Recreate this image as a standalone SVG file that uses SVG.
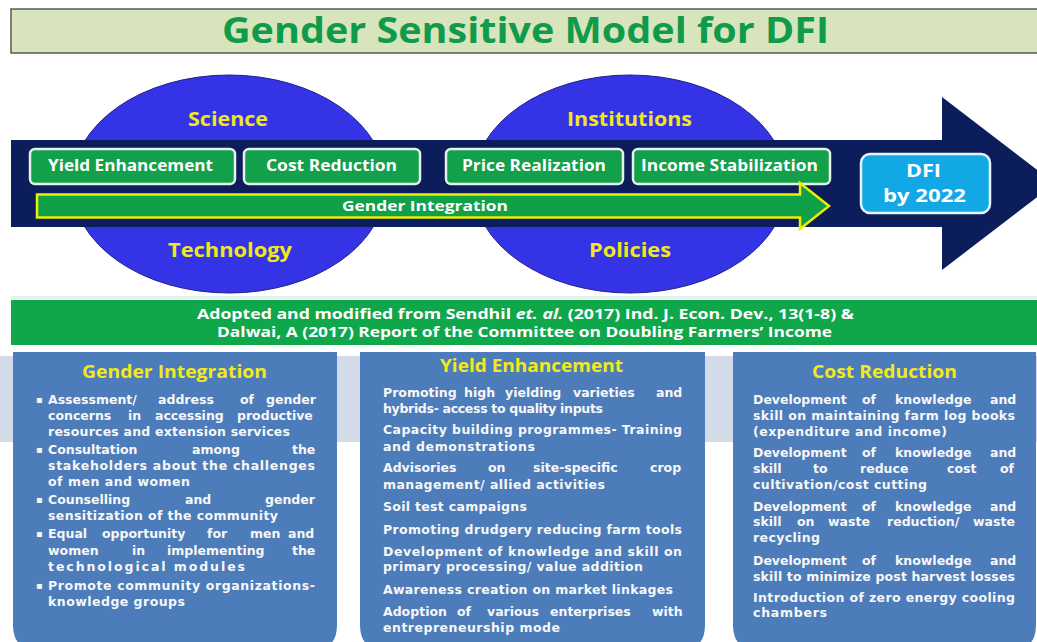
<svg xmlns="http://www.w3.org/2000/svg" width="1037" height="642" viewBox="0 0 1037 642">
<style>
.os{font-family:"Open Sans","Liberation Sans",sans-serif;font-weight:bold}
.title{font-size:35px;fill:#109a4b}
.yl{font-size:20px;fill:#f2e61e}
.bt{font-size:15.5px;fill:#ffffff}
.hdr{font-size:18.5px;fill:#f2ea1c}
.cite{font-size:14px;fill:#ffffff}
.body{font-family:"DejaVu Sans","Liberation Sans",sans-serif;font-weight:bold;font-size:12.5px;fill:#f7f7f7}
.gbox{fill:#12a04a;stroke:#e8f0ea;stroke-width:2.5}
.ell{fill:#3434e6;stroke:#22228a;stroke-width:1}
.panel{fill:#4d7cba}
</style>
<rect width="1037" height="642" fill="#ffffff"/>
<g id="title">
<rect x="11" y="9" width="1032" height="44" fill="#d8e4bc" stroke="#555a55" stroke-width="1.5"/>
<text class="os title" x="222" y="43" textLength="607" lengthAdjust="spacingAndGlyphs">Gender Sensitive Model for DFI</text>
</g>
<g id="ellipse-science">
<ellipse class="ell" cx="229" cy="184" rx="157" ry="109"/>
</g>
<g id="ellipse-institutions">
<ellipse class="ell" cx="630" cy="184" rx="157" ry="109"/>
</g>
<g id="connectors">
<path d="M11,140 H942 V97 L1055,183.5 L942,270 V227 H11 Z" fill="#0b1e5b"/>
</g>
<g id="labels-science">
<text class="os yl" x="188" y="126" textLength="80" lengthAdjust="spacingAndGlyphs">Science</text>
<text class="os yl" x="168" y="257" textLength="124" lengthAdjust="spacingAndGlyphs">Technology</text>
</g>
<g id="labels-institutions">
<text class="os yl" x="567" y="126" textLength="125" lengthAdjust="spacingAndGlyphs">Institutions</text>
<text class="os yl" x="589" y="257" textLength="82" lengthAdjust="spacingAndGlyphs">Policies</text>
</g>
<g id="box-yield">
<rect class="gbox" x="30" y="149" width="205" height="35" rx="5"/>
<text class="os bt" x="48" y="171" textLength="165" lengthAdjust="spacingAndGlyphs">Yield Enhancement</text>
</g>
<g id="box-cost">
<rect class="gbox" x="244" y="149" width="176" height="35" rx="5"/>
<text class="os bt" x="266" y="171" textLength="131" lengthAdjust="spacingAndGlyphs">Cost Reduction</text>
</g>
<g id="box-price">
<rect class="gbox" x="446" y="149" width="177" height="35" rx="5"/>
<text class="os bt" x="462" y="171" textLength="144" lengthAdjust="spacingAndGlyphs">Price Realization</text>
</g>
<g id="box-income">
<rect class="gbox" x="633" y="149" width="197" height="35" rx="5"/>
<text class="os bt" x="641" y="171" textLength="177" lengthAdjust="spacingAndGlyphs">Income Stabilization</text>
</g>
<g id="gender-arrow">
<path d="M37,194.5 H800 V183 L829,206 L800,229 V217.5 H37 Z" fill="#10a048" stroke="#eef000" stroke-width="2.5" stroke-linejoin="miter"/>
<text class="os" x="342" y="211" font-size="15" fill="#ffffff" textLength="166" lengthAdjust="spacingAndGlyphs">Gender Integration</text>
</g>
<g id="box-dfi">
<rect x="861" y="154" width="129" height="59" rx="9" fill="#12a8e6" stroke="#e8f4fa" stroke-width="2.5"/>
<text class="os" x="906" y="177" font-size="18" fill="#ffffff" textLength="35" lengthAdjust="spacingAndGlyphs">DFI</text>
<text class="os" x="883" y="202" font-size="18" fill="#ffffff" textLength="83" lengthAdjust="spacingAndGlyphs">by 2022</text>
</g>
<g id="citation">
<rect x="11" y="296" width="1026" height="3" fill="#e2f4ee"/>
<rect x="11" y="300" width="1026" height="45" fill="#10a64a"/>
<text class="os cite" x="197" y="319" textLength="657" lengthAdjust="spacingAndGlyphs">Adopted and modified from Sendhil <tspan font-style="italic">et. al.</tspan> (2017) Ind. J. Econ. Dev., 13(1-8) &amp;</text>
<text class="os cite" x="217" y="337" textLength="615" lengthAdjust="spacingAndGlyphs">Dalwai, A (2017) Report of the Committee on Doubling Farmers’ Income</text>
</g>
<rect x="0" y="356" width="1037" height="86" fill="#d3dbe8"/>
<g id="panel-gender">
<path class="panel" d="M13,352 H337 V625 Q337,650 312,650 H38 Q13,650 13,625 Z"/>
<text class="os hdr" x="82" y="378" textLength="185" lengthAdjust="spacingAndGlyphs">Gender Integration</text>
<g class="body">
<text x="36" y="403" font-size="10">▪</text>
<text y="404"><tspan x="48">Assessment/</tspan><tspan x="158">address</tspan><tspan x="240">of</tspan><tspan x="266">gender</tspan></text>
<text y="420"><tspan x="48">concerns</tspan><tspan x="128">in</tspan><tspan x="155">accessing</tspan><tspan x="237">productive</tspan></text>
<text x="48" y="436" textLength="242">resources and extension services</text>
<text x="36" y="453" font-size="10">▪</text>
<text y="454"><tspan x="48">Consultation</tspan><tspan x="192">among</tspan><tspan x="292">the</tspan></text>
<text x="48" y="470" textLength="267">stakeholders about the challenges</text>
<text x="48" y="486" textLength="142">of men and women</text>
<text x="36" y="503" font-size="10">▪</text>
<text y="504"><tspan x="48">Counselling</tspan><tspan x="185">and</tspan><tspan x="265">gender</tspan></text>
<text x="48" y="520" textLength="230">sensitization of the community</text>
<text x="36" y="537" font-size="10">▪</text>
<text y="538"><tspan x="48">Equal</tspan><tspan x="102">opportunity</tspan><tspan x="207">for</tspan><tspan x="250">men</tspan><tspan x="288">and</tspan></text>
<text y="555"><tspan x="48">women</tspan><tspan x="132">in</tspan><tspan x="167">implementing</tspan><tspan x="292">the</tspan></text>
<text x="48" y="571" textLength="197">technological modules</text>
<text x="36" y="589" font-size="10">▪</text>
<text x="48" y="590" textLength="267">Promote community organizations-</text>
<text x="48" y="606" textLength="137">knowledge groups</text>
</g>
</g>
<g id="panel-yield">
<path class="panel" d="M360,352 H705 V625 Q705,650 680,650 H385 Q360,650 360,625 Z"/>
<text class="os hdr" x="440" y="372" textLength="183" lengthAdjust="spacingAndGlyphs">Yield Enhancement</text>
<g class="body">
<text y="397"><tspan x="383">Promoting</tspan><tspan x="464">high</tspan><tspan x="505">yielding</tspan><tspan x="573">varieties</tspan><tspan x="656">and</tspan></text>
<text x="383" y="413" textLength="220">hybrids- access to quality inputs</text>
<text x="383" y="434" textLength="299">Capacity building programmes- Training</text>
<text x="383" y="451" textLength="152">and demonstrations</text>
<text y="472"><tspan x="383">Advisories</tspan><tspan x="488">on</tspan><tspan x="533">site-specific</tspan><tspan x="650">crop</tspan></text>
<text x="383" y="489" textLength="222">management/ allied activities</text>
<text x="383" y="511" textLength="144">Soil test campaigns</text>
<text x="383" y="534" textLength="299">Promoting drudgery reducing farm tools</text>
<text x="383" y="556" textLength="299">Development of knowledge and skill on</text>
<text x="383" y="571" textLength="260">primary processing/ value addition</text>
<text x="383" y="594" textLength="290">Awareness creation on market linkages</text>
<text y="616"><tspan x="383">Adoption</tspan><tspan x="457">of</tspan><tspan x="487">various</tspan><tspan x="550">enterprises</tspan><tspan x="652">with</tspan></text>
<text x="383" y="632" textLength="177">entrepreneurship mode</text>
</g>
</g>
<g id="panel-cost">
<path class="panel" d="M733,352 H1036 V625 Q1036,650 1011,650 H758 Q733,650 733,625 Z"/>
<text class="os hdr" x="812" y="378" textLength="145" lengthAdjust="spacingAndGlyphs">Cost Reduction</text>
<g class="body">
<text y="404"><tspan x="753">Development</tspan><tspan x="862">of</tspan><tspan x="895">knowledge</tspan><tspan x="990">and</tspan></text>
<text x="753" y="420" textLength="262">skill on maintaining farm log books</text>
<text x="753" y="436" textLength="194">(expenditure and income)</text>
<text y="457"><tspan x="753">Development</tspan><tspan x="862">of</tspan><tspan x="895">knowledge</tspan><tspan x="990">and</tspan></text>
<text y="473"><tspan x="753">skill</tspan><tspan x="813">to</tspan><tspan x="860">reduce</tspan><tspan x="947">cost</tspan><tspan x="1000">of</tspan></text>
<text x="753" y="489" textLength="174">cultivation/cost cutting</text>
<text y="511"><tspan x="753">Development</tspan><tspan x="862">of</tspan><tspan x="895">knowledge</tspan><tspan x="990">and</tspan></text>
<text y="526"><tspan x="753">skill</tspan><tspan x="797">on</tspan><tspan x="828">waste</tspan><tspan x="887">reduction/</tspan><tspan x="973">waste</tspan></text>
<text x="753" y="542" textLength="67">recycling</text>
<text y="565"><tspan x="753">Development</tspan><tspan x="862">of</tspan><tspan x="895">knowledge</tspan><tspan x="990">and</tspan></text>
<text x="753" y="581" textLength="262">skill to minimize post harvest losses</text>
<text x="753" y="602" textLength="262">Introduction of zero energy cooling</text>
<text x="753" y="617" textLength="74">chambers</text>
</g>
</g>
</svg>
